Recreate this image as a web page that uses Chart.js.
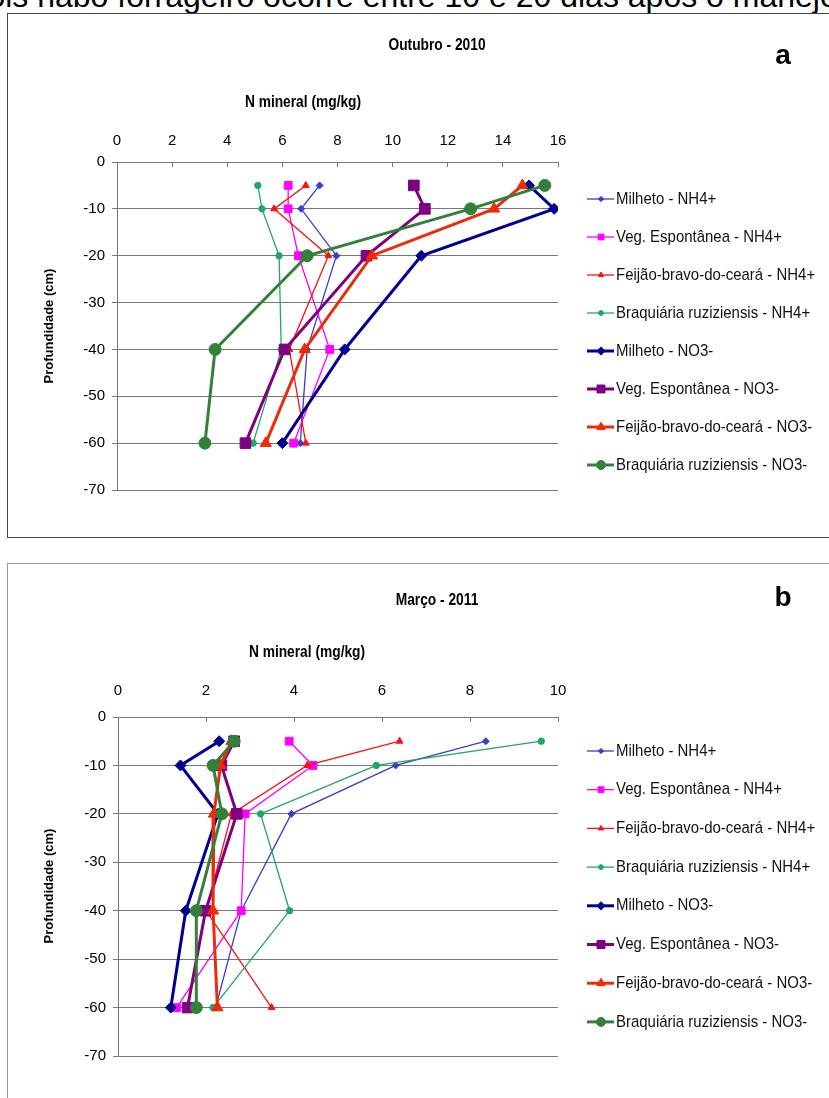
<!DOCTYPE html>
<html>
<head>
<meta charset="utf-8">
<script src="https://cdn.jsdelivr.net/npm/chart.js@4.4.0/dist/chart.umd.min.js"></script>
<style>
body { margin: 0; width: 829px; height: 1098px; overflow: hidden; background: #fff; position: relative; font-family: "Liberation Sans", Arial, sans-serif; }
.box { position: absolute; background: #fff; }
canvas { position: absolute; left: 0; }
.txt { position: absolute; white-space: nowrap; transform: translate(-50%, -50%); color: #000; }
.ttl { font-weight: bold; font-size: 16px; transform: translate(-50%, -50%) scaleX(0.86); }
.vert { font-weight: bold; font-size: 13px; transform: translate(-50%, -50%) rotate(-90deg); }
.letter { font-weight: bold; font-size: 28px; }
#cut { position: absolute; left: -66px; top: -20px; font-size: 32px; line-height: 32px; white-space: nowrap; }
</style>
</head>
<body>
<div id="cut">depois nabo forrageiro ocorre entre 10 e 20 dias após o manejo</div>
<div class="box" style="left:7px;top:13px;width:830px;height:523px;border:1px solid #444;"></div>
<div class="box" style="left:7px;top:563px;width:830px;height:540px;border:1px solid #999;"></div>
<canvas id="c1" width="829" height="545" style="top:0"></canvas>
<canvas id="c2" width="829" height="545" style="top:553px"></canvas>

<div class="txt ttl" style="left:437px;top:45px;">Outubro - 2010</div>
<div class="txt letter" style="left:783px;top:55px;">a</div>
<div class="txt ttl" style="left:303px;top:102px;">N mineral (mg/kg)</div>
<div class="txt vert" style="left:48px;top:326px;">Profundidade (cm)</div>

<div class="txt ttl" style="left:437px;top:600px;">Março - 2011</div>
<div class="txt letter" style="left:783px;top:597px;">b</div>
<div class="txt ttl" style="left:307px;top:652px;">N mineral (mg/kg)</div>
<div class="txt vert" style="left:48px;top:886px;">Profundidade (cm)</div>

<script>
// profundidade (cm)
const depths = [-5, -10, -20, -40, -60];

const seriesNames = [
  'Milheto - NH4+', 'Veg. Espontânea - NH4+', 'Feijão-bravo-do-ceará - NH4+', 'Braquiária ruziziensis - NH4+',
  'Milheto - NO3-', 'Veg. Espontânea - NO3-', 'Feijão-bravo-do-ceará - NO3-', 'Braquiária ruziziensis - NO3-'
];

// Outubro - 2010
const milhetoNH4Out = [7.35, 6.68, 7.96, 6.9, 6.65];
const vegNH4Out = [6.21, 6.21, 6.58, 7.72, 6.41];
const feijaoNH4Out = [6.85, 5.70, 7.67, 6.25, 6.85];
const braqNH4Out = [5.11, 5.26, 5.88, 5.96, 4.94];
const milhetoNO3Out = [14.95, 15.86, 11.04, 8.26, 6.0];
const vegNO3Out = [10.77, 11.17, 9.05, 6.08, 4.66];
const feijaoNO3Out = [14.71, 13.68, 9.25, 6.81, 5.40];
const braqNO3Out = [15.52, 12.83, 6.90, 3.56, 3.19];

// Março - 2011
const milhetoNH4Mar = [8.36, 6.31, 3.94, 2.80, 2.22];
const vegNH4Mar = [3.89, 4.43, 2.89, 2.80, 1.33];
const feijaoNH4Mar = [6.40, 4.30, 2.58, 2.0, 3.49];
const braqNH4Mar = [9.62, 5.87, 3.24, 3.90, 2.16];
const milhetoNO3Mar = [2.30, 1.42, 2.27, 1.54, 1.20];
const vegNO3Mar = [2.64, 2.35, 2.70, 1.99, 1.58];
const feijaoNO3Mar = [2.58, 2.33, 2.18, 2.16, 2.26];
const braqNO3Mar = [2.64, 2.16, 2.36, 1.78, 1.78];

const xTicksOut = [0, 2, 4, 6, 8, 10, 12, 14, 16];
const xTicksMar = [0, 2, 4, 6, 8, 10];
const yTicks = [0, -10, -20, -30, -40, -50, -60, -70];

// estilos
const colors = ['#3c3cc8', '#ff00ff', '#ff1010', '#1fa862', '#000090', '#800080', '#ee2a0a', '#33803a'];
const pointStyles = ['rectRot', 'rect', 'triangle', 'circle', 'rectRot', 'rect', 'triangle', 'circle'];
const radii = [3.5, 5.5, 4, 3.2, 5.5, 7.5, 6.5, 6];
const widths = [1.3, 1.3, 1.3, 1.3, 3, 3, 3, 3];

const fam = '"Liberation Sans", Arial, sans-serif';

function buildDatasets(list) {
  return list.map((vals, i) => ({
    label: seriesNames[i],
    data: vals.map((v, k) => ({ x: v, y: depths[k] })),
    showLine: true,
    borderColor: colors[i],
    backgroundColor: colors[i],
    borderWidth: widths[i],
    pointStyle: pointStyles[i],
    pointRadius: radii[i],
    pointBorderWidth: 1,
    order: 8 - i
  }));
}

const legendPlugin = {
  id: 'sideLegend',
  afterDraw(chart, args, opts) {
    const ctx = chart.ctx;
    chart.data.datasets.forEach((ds, i) => {
      const y = opts.top + i * opts.step;
      ctx.save();
      ctx.strokeStyle = ds.borderColor;
      ctx.lineWidth = ds.borderWidth;
      ctx.beginPath();
      ctx.moveTo(587, y);
      ctx.lineTo(614, y);
      ctx.stroke();
      ctx.fillStyle = ds.backgroundColor;
      ctx.lineWidth = 1;
      Chart.helpers.drawPoint(ctx, { pointStyle: ds.pointStyle, radius: ds.pointRadius * 0.75, borderWidth: 1, rotation: 0 }, 601, y);
      // texto estreito como no original
      ctx.translate(616, y);
      ctx.scale(0.88, 1);
      ctx.fillStyle = '#111';
      ctx.font = '17px ' + fam;
      ctx.textBaseline = 'middle';
      ctx.textAlign = 'left';
      ctx.fillText(ds.label, 0, 0);
      ctx.restore();
    });
  }
};

function makeChart(id, list, xMax, xTicks, axisTop, axisLeft, padBottom, xPad, legTop, legStep) {
  return new Chart(document.getElementById(id), {
    type: 'scatter',
    data: { datasets: buildDatasets(list) },
    plugins: [legendPlugin],
    options: {
      responsive: false,
      animation: false,
      layout: { padding: { left: 0, top: 0, right: 271, bottom: padBottom } },
      plugins: {
        legend: { display: false },
        tooltip: { enabled: false },
        sideLegend: { top: legTop, step: legStep }
      },
      scales: {
        x: {
          type: 'linear',
          position: 'top',
          min: 0,
          max: xMax,
          afterBuildTicks: s => { s.ticks = xTicks.map(v => ({ value: v })); },
          afterFit: s => { s.height = axisTop; },
          ticks: { color: '#000', font: { family: fam, size: 15 }, padding: xPad, maxRotation: 0 },
          grid: { drawOnChartArea: false, tickLength: -5, color: '#777' },
          border: { color: '#777' }
        },
        y: {
          type: 'linear',
          min: -70,
          max: 0,
          afterBuildTicks: s => { s.ticks = yTicks.map(v => ({ value: v })); },
          afterFit: s => { s.width = axisLeft; },
          ticks: { color: '#000', font: { family: fam, size: 15 }, padding: 7 },
          grid: { color: '#777', tickLength: 5 },
          border: { color: '#777' }
        }
      }
    }
  });
}

makeChart('c1',
  [milhetoNH4Out, vegNH4Out, feijaoNH4Out, braqNH4Out, milhetoNO3Out, vegNO3Out, feijaoNO3Out, braqNO3Out],
  16, xTicksOut, 162, 117, 55, 17, 199, 38);

makeChart('c2',
  [milhetoNH4Mar, vegNH4Mar, feijaoNH4Mar, braqNH4Mar, milhetoNO3Mar, vegNO3Mar, feijaoNO3Mar, braqNO3Mar],
  10, xTicksMar, 164, 118, 42, 22, 198, 38.7);
</script>
</body>
</html>
